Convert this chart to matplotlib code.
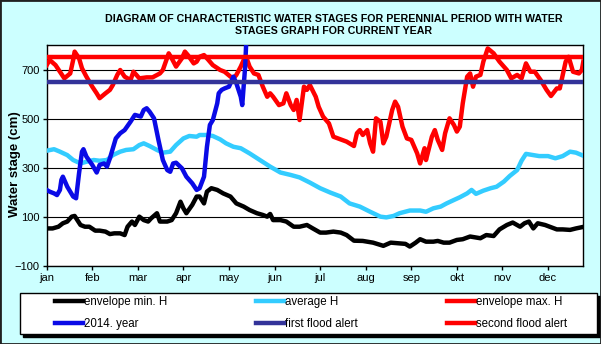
import matplotlib
matplotlib.use("Agg")
import matplotlib.pyplot as plt
from matplotlib.patches import Rectangle

plt.rcParams['font.family'] = ['Liberation Sans', 'DejaVu Sans']

months = ['jan', 'feb', 'mar', 'apr', 'may', 'jun', 'jul', 'aug', 'sep', 'okt', 'nov', 'dec']
month_ticks = [0, 31, 62, 93, 124, 155, 186, 217, 248, 279, 310, 341]

min_days = [0, 4, 8, 11, 14, 17, 19, 23, 26, 29, 33, 36, 40, 43, 46, 50, 53, 55, 58, 60, 63, 66, 69, 71, 75, 77,
            82, 85, 88, 91, 93, 95, 99, 102, 104, 107, 109, 112, 116, 120, 125, 129, 134, 138, 143, 147, 150, 152,
            154, 159, 163, 168, 172, 177, 181, 186, 190, 195, 200, 204, 209, 215, 222, 229, 234, 240, 244, 247, 251,
            254, 258, 263, 266, 270, 274, 279, 283, 288, 291, 295, 299, 304, 308, 313, 317, 322, 325, 328, 331, 334,
            339, 343, 347, 351, 356, 360, 364]
min_vals = [52, 52, 59, 73, 80, 100, 103, 66, 59, 59, 43, 43, 39, 29, 32, 32, 25, 59, 80, 66, 100, 86, 80, 93, 114, 80,
            80, 86, 114, 161, 134, 114, 148, 182, 182, 154, 202, 216, 209, 195, 182, 154, 141, 127, 114, 107, 100, 111,
            86, 86, 80, 59, 59, 66, 52, 35, 35, 39, 35, 25, 2, 1, -6, -19, -6, -9, -11, -22, -6,
            8, -2, -2, 1, -6, -6, 5, 8, 19, 16, 12, 25, 21, 48, 66, 76, 59, 73, 80, 52, 73,
            66, 57, 48, 48, 46, 52, 57]

avg_days = [0, 5, 9, 14, 18, 23, 27, 32, 36, 41, 45, 50, 54, 59, 63, 66, 70, 75, 79, 84, 88, 93, 97, 102, 104, 109,
            113, 118, 122, 127, 132, 138, 145, 152, 159, 166, 172, 179, 186, 193, 200, 206, 213, 220, 227, 231, 236,
            240, 247, 254, 258, 263, 268, 272, 277, 281, 286, 289, 292, 297, 302, 306, 311, 315, 320, 323, 326, 331,
            335, 341, 346, 351, 356, 360, 364]
avg_vals = [369, 375, 365, 351, 331, 317, 324, 331, 328, 331, 351, 365, 372, 375, 392, 399, 388, 372, 361, 365, 392,
            419, 429, 426, 433, 433, 429, 415, 399, 385, 379, 358, 331, 304, 280, 270, 260, 239, 216, 198, 182, 154,
            141, 120, 100, 97, 103, 114, 125, 125, 120, 134, 141, 154, 168, 179, 195, 209, 193, 206, 216, 222, 243,
            266, 290, 328, 356, 351, 347, 347, 338, 347, 365, 361, 351]

max_days = [0, 2, 6, 9, 12, 16, 18, 19, 22, 24, 27, 31, 34, 36, 40, 43, 45, 48, 50, 53, 57, 59, 61, 63, 68, 72, 77,
            79, 83, 85, 88, 92, 94, 96, 100, 102, 104, 107, 110, 113, 118, 121, 125, 127, 129, 132, 134, 136, 138,
            141, 144, 147, 150, 152, 154, 158, 161, 163, 166, 168, 170, 172, 175, 177, 179, 183, 185, 188, 192, 195,
            200, 204, 209, 211, 213, 215, 218, 220, 222, 224, 227, 229, 231, 235, 237, 239, 242, 245, 248, 252, 254,
            257, 258, 262, 264, 266, 269, 271, 274, 277, 279, 281, 283, 286, 288, 290, 292, 295, 297, 300, 304, 308,
            313, 316, 320, 323, 326, 329, 332, 336, 340, 343, 347, 349, 353, 355, 358, 362, 364, 365]
max_vals = [718, 739, 718, 691, 664, 684, 739, 773, 746, 705, 671, 630, 603, 583, 603, 617, 637, 678, 698, 671, 657,
            691, 678, 664, 668, 668, 684, 698, 766, 746, 712, 746, 773, 759, 725, 732, 752, 759, 739, 718, 698, 691,
            671, 664, 678, 712, 739, 746, 712, 684, 678, 630, 589, 603, 589, 555, 562, 603, 555, 535, 576, 494, 630,
            617, 637, 589, 548, 508, 480, 426, 415, 406, 388, 440, 453, 433, 453, 399, 365, 501, 487, 399, 426, 535,
            569, 548, 467, 419, 413, 358, 317, 379, 331, 426, 453, 413, 372, 440, 501, 474, 447, 467, 562, 671, 684,
            630, 671, 678, 732, 786, 766, 732, 698, 664, 678, 664, 725, 691, 691, 657, 617, 592, 623, 623, 732, 752,
            691, 684, 698, 732]

cur_days = [0, 2, 5, 7, 9, 10, 11, 14, 16, 18, 20, 22, 24, 25, 27, 31, 34, 36, 39, 41, 43, 47, 50, 53, 57, 60, 64,
            66, 68, 70, 73, 76, 79, 82, 84, 86, 88, 92, 95, 99, 102, 104, 107, 109, 111, 113, 116, 117, 119, 121, 124,
            125, 127, 129, 132, 133, 135, 136]
cur_vals = [209, 202, 195, 188, 209, 250, 263, 222, 202, 182, 175, 277, 365, 375, 345, 311, 280, 311, 317, 304, 338,
            419, 440, 453, 487, 515, 508, 535, 542, 528, 501, 413, 331, 290, 283, 317, 320, 297, 263, 236, 209, 216,
            263, 385, 474, 494, 562, 603, 617, 623, 630, 644, 671, 644, 589, 555, 712, 850]

first_alert = 650
second_alert = 750

fig = plt.figure(figsize=(6.01, 3.44), dpi=100, facecolor='#CCFFFF')
ax = fig.add_axes([46.7 / 601, 1 - 265.7 / 344, 536.6 / 601, 220.7 / 344])
ax.set_facecolor('white')

lw = 3.2
ax.plot(min_days, min_vals, color='black', lw=lw, solid_joinstyle='round', label='envelope min. H', zorder=3)
ax.plot(avg_days, avg_vals, color='#33CCFF', lw=lw, solid_joinstyle='round', label='average H', zorder=3)
ax.plot(max_days, max_vals, color='#FF0000', lw=lw, solid_joinstyle='round', label='envelope max. H', zorder=3)
ax.plot(cur_days, cur_vals, color='#0A0AE6', lw=lw, solid_joinstyle='round', label='2014. year', zorder=4)
ax.axhline(first_alert, color='#333399', lw=3.2, label='first flood alert', zorder=5)
ax.axhline(second_alert, color='#FF0000', lw=3.2, label='second flood alert', zorder=5)

ax.set_xlim(0, 365)
ax.set_ylim(-100, 800)
ax.set_yticks([-100, 100, 300, 500, 700])
ax.set_xticks(month_ticks)
ax.set_xticklabels(months)
ax.tick_params(axis='both', direction='out', length=3, width=1, labelsize=8, colors='black', pad=2)
ax.grid(axis='y', color='black', lw=0.8)
ax.set_axisbelow(True)
for s in ax.spines.values():
    s.set_color('black')
    s.set_linewidth(1)

fig.text(15 / 601, 1 - 164 / 344, 'Water stage (cm)', rotation=90, ha='center', va='center',
         fontsize=9.5, fontweight='bold')
fig.text(334 / 601, 1 - 25 / 344,
         'DIAGRAM OF CHARACTERISTIC WATER STAGES FOR PERENNIAL PERIOD WITH WATER\nSTAGES GRAPH FOR CURRENT YEAR',
         ha='center', va='center', fontsize=7.7, fontweight='bold', linespacing=1.35)

# legend frame with shadow
fig.patches.append(Rectangle((23 / 601, 1 - 337 / 344), 577 / 601, 41 / 344, transform=fig.transFigure,
                             facecolor='black', edgecolor='black', zorder=1))
fig.patches.append(Rectangle((20 / 601, 1 - 334 / 344), 577 / 601, 41 / 344, transform=fig.transFigure,
                             facecolor='white', edgecolor='black', lw=1, zorder=2))
# figure border
fig.patches.append(Rectangle((0, 0), 1, 1, transform=fig.transFigure, facecolor='none',
                             edgecolor='#202020', lw=2, zorder=3))

h, l = ax.get_legend_handles_labels()
order = [0, 3, 1, 4, 2, 5]
leg = fig.legend([h[i] for i in order], [l[i] for i in order], ncol=3, mode='expand',
                 bbox_to_anchor=(55 / 601, 1 - 333 / 344, 512 / 601, 40 / 344), loc='center',
                 frameon=False, fontsize=8.3, handlelength=2.4, handletextpad=0.1, labelspacing=0.85,
                 borderpad=0, borderaxespad=0)
leg.set_zorder(5)

fig.savefig('out.png', dpi=100, facecolor=fig.get_facecolor())
